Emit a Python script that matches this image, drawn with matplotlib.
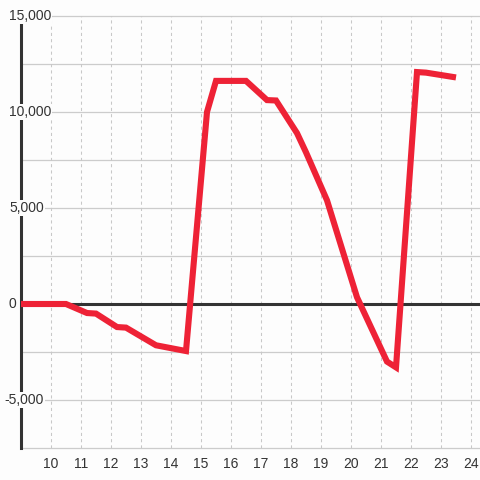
import numpy as np
import matplotlib
matplotlib.use('Agg')
import matplotlib.pyplot as plt
import matplotlib.transforms as mtransforms

plt.rcParams['font.family'] = ['Liberation Sans', 'DejaVu Sans']

# values
x_vals = [9, 10.5, 11.2, 11.5, 12.2, 12.5, 13.5, 14.5, 15.2, 15.5, 16.5, 17.2,
          17.5, 18.2, 18.5, 19.2, 20.2, 21.2, 21.5, 22.2, 22.5, 23.5]
y_vals = [0, 0, -470, -500, -1200, -1230, -2150, -2450, 10000, 11620, 11620, 10620,
          10600, 8900, 7900, 5400, 350, -3000, -3300, 12080, 12050, 11800]
x_ticks = list(range(10, 25))
y_ticks = [15000, 10000, 5000, 0, -5000]
y_ticklabels = ['15,000', '10,000', '5,000', '0', '-5,000']
y_grid = np.arange(-7500, 15001, 2500)

bg = '#fdfdfd'
txt = '#333333'

fig = plt.figure(figsize=(4.8, 4.8), dpi=100, facecolor=bg)
ax = fig.add_axes([21/480, 1 - 448/480, 1 - 21/480, (448 - 16)/480])
ax.set_facecolor(bg)
ax.set_xlim(9, 9 + 459/30)
ax.set_ylim(-7500, 15000)

# grid
for g in y_grid:
    if g == 0:
        continue
    ax.axhline(g, color='#cccccc', lw=0.9, zorder=1, clip_on=False)
for xt in x_ticks:
    ax.axvline(xt, color='#c8c8c8', lw=0.75, ls=(0, (3, 3)), zorder=1)
ax.axhline(0, color=txt, lw=2.2, zorder=2)

for s in ['top', 'right', 'bottom']:
    ax.spines[s].set_visible(False)
ax.spines['left'].set_color(txt)
ax.spines['left'].set_linewidth(2.2)
ax.spines['left'].set_bounds(-7500, 14583)

ax.set_xticks(x_ticks)
ax.set_xticklabels([str(t) for t in x_ticks])
ax.tick_params(axis='x', length=0, pad=6.5, labelsize=10, labelcolor=txt)
ax.set_yticks([])

# y labels sit over the spine with a background box (right edges as in the reference)
trans = mtransforms.blended_transform_factory(fig.transFigure, ax.transData)
right_px = [51, 51, 44, 16, 44]
for v, lab, rx in zip(y_ticks, y_ticklabels, right_px):
    ax.text(rx/480, v, lab, transform=trans, ha='right', va='center',
            fontsize=10, color=txt, zorder=3, clip_on=False,
            bbox=dict(facecolor=bg, edgecolor='none', pad=1.0))

ax.plot(x_vals, y_vals, color='#ee2236', lw=4.4, solid_joinstyle='miter',
        solid_capstyle='butt', zorder=5)

fig.savefig('out.png', dpi=100, facecolor=bg)
